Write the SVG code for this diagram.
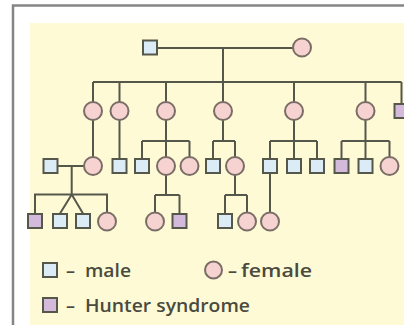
<svg xmlns="http://www.w3.org/2000/svg" width="404" height="325" viewBox="0 0 404 325">
<defs>
<style>
.m{fill:#dcecf6;stroke:#56574b;stroke-width:2}
.f{fill:#f6d3d0;stroke:#7a6d66;stroke-width:2}
.a{fill:#d3b9da;stroke:#56574b;stroke-width:2}
.ln{fill:none;stroke:#56574b;stroke-width:2}
.t{font-family:"Open Sans","Liberation Sans",sans-serif;font-weight:600;font-size:18px;fill:#4a4a3e}
</style>
</defs>
<rect x="0" y="0" width="404" height="325" fill="#ffffff"/>
<rect x="30" y="23" width="374" height="302" fill="#fefad6"/>
<path d="M13,325 V5.5 H404" fill="none" stroke="#858585" stroke-width="2.5"/>
<g id="connectors" class="ln">
<path d="M157,48 H293"/>
<path d="M223,48 V82"/>
<path d="M93,82 H401.5"/>
<path d="M93,82 V102 M119.5,82 V102 M166,82 V102 M223,82 V102 M294,82 V102 M365.5,82 V102 M401.5,82 V103"/>
<path d="M93,120 V157"/>
<path d="M119.5,120 V158"/>
<path d="M58,166 H84"/>
<path d="M71.7,166 V194.5 H107 V213 M71.7,194.5 H35 V213.5 M71.7,194.5 L60,213.5 M71.7,194.5 L83,213.5"/>
<path d="M166,120 V141 M142,141 H189.5 M142,141 V158 M166,141 V157 M189.5,141 V157"/>
<path d="M223,120 V141 M213,141 H235 M213,141 V158 M235,141 V157"/>
<path d="M294,120 V141 M270,141 H317 M270,141 V158 M294,141 V158 M317,141 V158"/>
<path d="M365.5,120 V141 M341.5,141 H389.5 M341.5,141 V158 M365.5,141 V158 M389.5,141 V157"/>
<path d="M166,175 V195 M155,195 H179.5 M155,195 V213 M179.5,195 V213.5"/>
<path d="M235,175 V195 M225,195 H247 M225,195 V213.5 M247,195 V213"/>
<path d="M270,173 V213"/>
</g>
<g id="I1"><rect class="m" x="143" y="40.5" width="14" height="14"/></g>
<g id="I2"><circle class="f" cx="302" cy="47.5" r="9"/></g>
<g id="II1"><circle class="f" cx="93" cy="111" r="9"/></g>
<g id="II2"><circle class="f" cx="119.5" cy="111" r="9"/></g>
<g id="II3"><circle class="f" cx="166" cy="111" r="9"/></g>
<g id="II4"><circle class="f" cx="223" cy="111" r="9"/></g>
<g id="II5"><circle class="f" cx="294" cy="111" r="9"/></g>
<g id="II6"><circle class="f" cx="365.5" cy="111" r="9"/></g>
<g id="II7"><rect class="a" x="394.5" y="104" width="14" height="14"/></g>
<g id="III1"><rect class="m" x="43.5" y="159" width="14" height="14"/></g>
<g id="III2"><circle class="f" cx="93" cy="166" r="9"/></g>
<g id="III3"><rect class="m" x="112.5" y="159" width="14" height="14"/></g>
<g id="III4"><rect class="m" x="135" y="159" width="14" height="14"/></g>
<g id="III5"><circle class="f" cx="166" cy="166" r="9"/></g>
<g id="III6"><circle class="f" cx="189.5" cy="166" r="9"/></g>
<g id="III7"><rect class="m" x="206" y="159" width="14" height="14"/></g>
<g id="III8"><circle class="f" cx="235" cy="166" r="9"/></g>
<g id="III9"><rect class="m" x="263" y="159" width="14" height="14"/></g>
<g id="III10"><rect class="m" x="287" y="159" width="14" height="14"/></g>
<g id="III11"><rect class="m" x="310" y="159" width="14" height="14"/></g>
<g id="III12"><rect class="a" x="334.5" y="159" width="14" height="14"/></g>
<g id="III13"><rect class="m" x="358.5" y="159" width="14" height="14"/></g>
<g id="III14"><circle class="f" cx="389.5" cy="166" r="9"/></g>
<g id="IV1"><rect class="a" x="28" y="214" width="14" height="14"/></g>
<g id="IV2"><rect class="m" x="53" y="214" width="14" height="14"/></g>
<g id="IV3"><rect class="m" x="76" y="214" width="14" height="14"/></g>
<g id="IV4"><circle class="f" cx="107" cy="221.5" r="9"/></g>
<g id="IV5"><circle class="f" cx="155" cy="221.5" r="9"/></g>
<g id="IV6"><rect class="a" x="172.5" y="214" width="14" height="14"/></g>
<g id="IV7"><rect class="m" x="218" y="214" width="14" height="14"/></g>
<g id="IV8"><circle class="f" cx="247" cy="221.5" r="9"/></g>
<g id="IV9"><circle class="f" cx="270" cy="221.5" r="9"/></g>
<g id="legend">
<rect class="m" x="43" y="263" width="14" height="14"/>
<text class="t" x="66" y="277">–<tspan x="85" textLength="46" lengthAdjust="spacingAndGlyphs">male</tspan></text>
<circle class="f" cx="213.5" cy="270" r="8.5"/>
<text class="t" x="228" y="277">–<tspan x="241" textLength="71" lengthAdjust="spacingAndGlyphs">female</tspan></text>
<rect class="a" x="43" y="298" width="14" height="14"/>
<text class="t" x="66" y="312">–<tspan x="85" textLength="165" lengthAdjust="spacingAndGlyphs">Hunter syndrome</tspan></text>
</g>
</svg>
